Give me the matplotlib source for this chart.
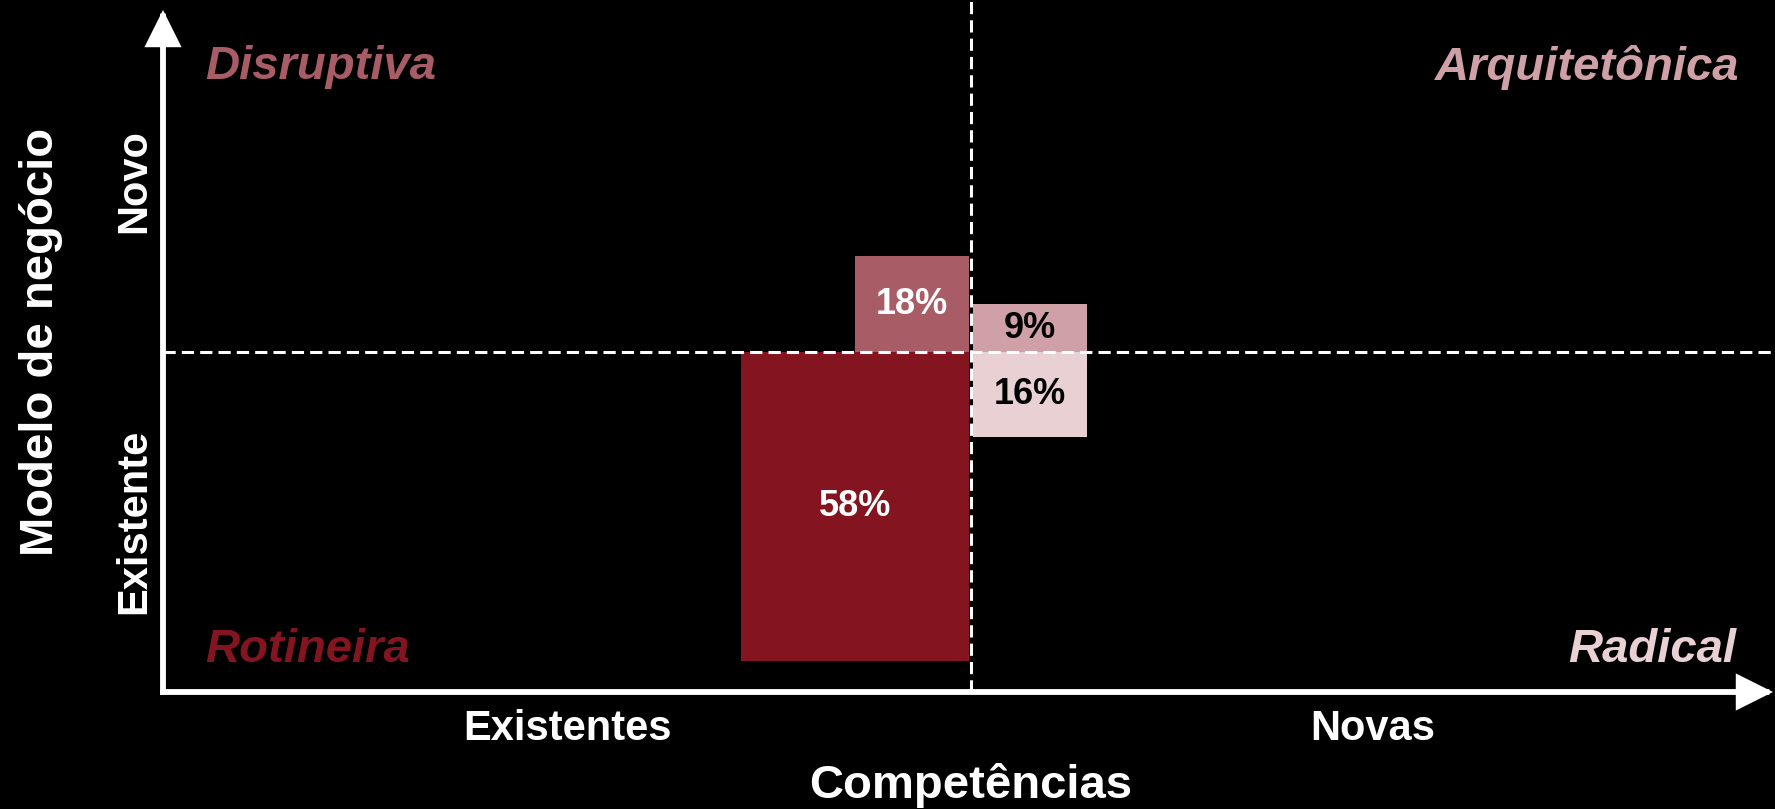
import matplotlib
matplotlib.use("Agg")
import matplotlib.pyplot as plt

# ---- data ----
segments = ["Rotineira", "Disruptiva", "Arquitetônica", "Radical"]
values = [58, 18, 9, 16]                # percent
value_labels = ["58%", "18%", "9%", "16%"]
x_categories = ["Existentes", "Novas"]
y_categories = ["Existente", "Novo"]
x_title = "Competências"
y_title = "Modelo de negócio"

# ---- style ----
colors = ["#841520", "#a85c66", "#cfa0a6", "#e8d0d3"]
text_colors = ["white", "white", "black", "black"]
widths = [2, 1, 1, 1]
side = [-1, -1, 1, 1]      # left/right of the vertical divider
up = [-1, 1, 1, -1]        # below/above the horizontal divider
FONT = "Liberation Sans"

W, H = 1775, 809
cx, cy = 971, 352          # pixel position of the quadrant centre
ux, uy = 114.0, 5.32       # pixels per x-unit / per percent

def px(x, y):
    return (x - cx) / ux, (cy - y) / uy

fig = plt.figure(figsize=(W / 100, H / 100), dpi=100, facecolor="black")
ax = fig.add_axes([0, 0, 1, 1])
ax.set_facecolor("black")
x0, y0 = px(0, H)
x1, y1 = px(W, 0)
ax.set_xlim(x0, x1)
ax.set_ylim(y0, y1)
ax.axis("off")

gap = 2 / ux
for v, lab, c, tc, w, s, u in zip(values, value_labels, colors, text_colors, widths, side, up):
    left = -gap - w if s < 0 else gap
    bottom = 0 if u > 0 else -v
    ax.bar(left, v, width=w, bottom=bottom, align="edge", color=c, zorder=2, linewidth=0)
    ax.text(left + w / 2, bottom + v / 2, lab, ha="center", va="center",
            fontsize=26, fontweight="bold", color=tc, family=FONT, zorder=4)

# axes with arrows
ox, oy = px(163, 692)
tx, ty = px(163, 10)
rx, ry = px(1773, 692)
ap = dict(arrowstyle="-|>,head_length=1.0,head_width=0.5", lw=4.2, color="white",
          shrinkA=0, shrinkB=0, mutation_scale=20, joinstyle="miter", capstyle="projecting")
ax.annotate("", xy=(tx, ty), xytext=(ox, oy), arrowprops=ap, zorder=5)
ax.annotate("", xy=(rx, ry), xytext=(ox, oy), arrowprops=ap, zorder=5)

# dashed dividers
ax.plot([0, 0], [oy, y1], color="white", lw=2.2, dashes=(4, 2), zorder=3)
ax.plot([ox, x1], [0, 0], color="white", lw=2.2, dashes=(4, 2), zorder=3)

# quadrant names
qpos = {"Disruptiva": (205, 79, "left"), "Rotineira": (205, 662, "left"),
        "Arquitetônica": (1739, 80, "right"), "Radical": (1736, 662, "right")}
for name, c in zip(segments, colors):
    x, y, ha = qpos[name]
    ax.text(*px(x, y), name, ha=ha, va="baseline", fontsize=34, fontweight="bold",
            fontstyle="italic", color=c, family=FONT)

# category labels
for lab, xx in zip(x_categories, [567, 1373]):
    ax.text(*px(xx, 740), lab, ha="center", va="baseline", fontsize=30,
            fontweight="bold", color="white", family=FONT)
for lab, yy in zip(y_categories, [521, 181]):
    ax.text(*px(145, yy), lab, ha="center", va="baseline", rotation=90,
            rotation_mode="anchor", fontsize=30, fontweight="bold", color="white", family=FONT)

ax.text(*px(971, 798), x_title, ha="center", va="baseline", fontsize=34,
        fontweight="bold", color="white", family=FONT)
ax.text(*px(53, 342), y_title, ha="center", va="baseline", rotation=90,
        rotation_mode="anchor", fontsize=34, fontweight="bold", color="white", family=FONT)

fig.savefig("out.png", dpi=100, facecolor="black")
